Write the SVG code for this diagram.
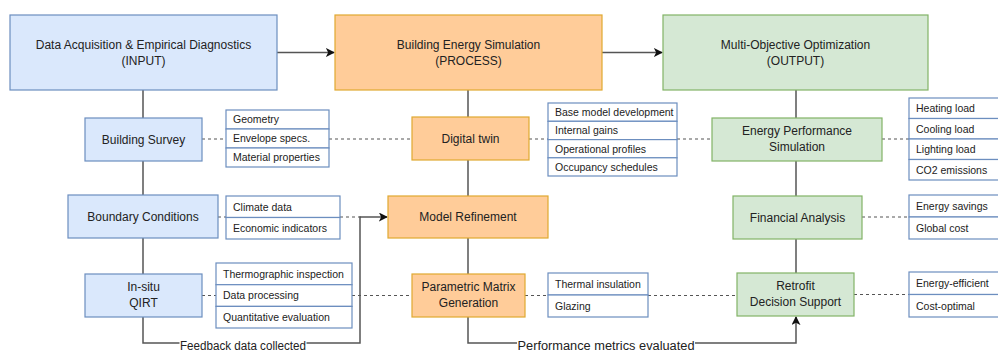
<svg xmlns="http://www.w3.org/2000/svg" width="998" height="352" viewBox="0 0 998 352">
<style>
text{font-family:"Liberation Sans",Arial,sans-serif;fill:#222}
.n{font-size:12px;text-anchor:middle}
.l{font-size:10.5px}
.b{fill:#dae8fc;stroke:#6c8ebf;stroke-width:1.2}
.o{fill:#ffcc99;stroke:#e0a830;stroke-width:1.2}
.g{fill:#d5e8d4;stroke:#82b366;stroke-width:1.2}
.w{fill:#fff;stroke:#6c8ebf;stroke-width:1.2}
.s{fill:none;stroke:#555;stroke-width:1.5}
.d{fill:none;stroke:#555;stroke-width:1.2;stroke-dasharray:3 3}
.lbl{font-size:12px;text-anchor:middle}
</style>
<defs>
<marker id="arr" viewBox="0 0 10 10" refX="9" refY="5" markerWidth="9" markerHeight="9" markerUnits="userSpaceOnUse" orient="auto">
<path d="M0,0 L10,5 L0,10 L2.5,5 Z" fill="#111"/>
</marker>
</defs>
<rect width="998" height="352" fill="#fff"/>

<g id="connectors">
<path class="s" d="M277,52.5 H334" marker-end="url(#arr)"/>
<path class="s" d="M602,52.5 H662" marker-end="url(#arr)"/>
<path class="s" d="M143,90 V118 M143,161 V195 M143,238 V274"/>
<path class="s" d="M468,90 V117 M468,160 V196 M468,238 V274"/>
<path class="s" d="M796,90 V118 M796,161 V196 M796,239 V273"/>
<path class="d" d="M202,139 H226 M329,139 H412"/>
<path class="d" d="M218,217 H226 M340,217 H361"/>
<path class="d" d="M202,295.5 H216 M352,295.5 H412"/>
<path class="d" d="M529,139 H548 M677,139 H712"/>
<path class="d" d="M525,295.5 H548 M648,295.5 H737"/>
<path class="d" d="M882,139 H909 M862,217 H909 M854,294.5 H909"/>
<path class="s" d="M143,317 V343 H360 V217 H387" marker-end="url(#arr)"/>
<path class="s" d="M468,317 V343 H796 V317" marker-end="url(#arr)"/>
<rect x="179.5" y="336" width="127" height="16" fill="#fff"/>
<text class="lbl" x="243" y="349.5" textLength="126" lengthAdjust="spacingAndGlyphs">Feedback data collected</text>
<rect x="517" y="336" width="178" height="16" fill="#fff"/>
<text class="lbl" x="606" y="349.5" textLength="177" lengthAdjust="spacingAndGlyphs">Performance metrics evaluated</text>
</g>

<g id="input">
<rect class="b" x="10" y="15" width="267" height="75"/>
<text class="n" x="143.5" y="49">Data Acquisition &amp; Empirical Diagnostics</text>
<text class="n" x="143.5" y="65">(INPUT)</text>
</g>
<g id="process">
<rect class="o" x="335" y="15" width="267" height="75"/>
<text class="n" x="468.5" y="49">Building Energy Simulation</text>
<text class="n" x="468.5" y="65">(PROCESS)</text>
</g>
<g id="output">
<rect class="g" x="663" y="15" width="265" height="75"/>
<text class="n" x="795.5" y="49">Multi-Objective Optimization</text>
<text class="n" x="795.5" y="65">(OUTPUT)</text>
</g>

<g id="building-survey">
<rect class="b" x="85" y="118" width="117" height="43"/>
<text class="n" x="143.5" y="143.5">Building Survey</text>
</g>
<g id="survey-list">
<rect class="w" x="226" y="110" width="103" height="19"/>
<rect class="w" x="226" y="129" width="103" height="19"/>
<rect class="w" x="226" y="148" width="103" height="19"/>
<text class="l" x="233" y="123">Geometry</text>
<text class="l" x="233" y="142">Envelope specs.</text>
<text class="l" x="233" y="161">Material properties</text>
</g>
<g id="boundary-conditions">
<rect class="b" x="68" y="195" width="150" height="43"/>
<text class="n" x="143" y="220.5">Boundary Conditions</text>
</g>
<g id="boundary-list">
<rect class="w" x="226" y="196" width="114" height="21.5"/>
<rect class="w" x="226" y="217.5" width="114" height="21.5"/>
<text class="l" x="233" y="210.5">Climate data</text>
<text class="l" x="233" y="232">Economic indicators</text>
</g>
<g id="qirt">
<rect class="b" x="85" y="274" width="117" height="43"/>
<text class="n" x="143.5" y="291">In-situ</text>
<text class="n" x="143.5" y="307">QIRT</text>
</g>
<g id="qirt-list">
<rect class="w" x="216" y="263" width="136" height="21.7"/>
<rect class="w" x="216" y="284.7" width="136" height="21.7"/>
<rect class="w" x="216" y="306.4" width="136" height="21.6"/>
<text class="l" x="223" y="277.5">Thermographic inspection</text>
<text class="l" x="223" y="299">Data processing</text>
<text class="l" x="223" y="321">Quantitative evaluation</text>
</g>

<g id="digital-twin">
<rect class="o" x="412" y="117" width="117" height="43"/>
<text class="n" x="470.5" y="142.5">Digital twin</text>
</g>
<g id="twin-list">
<rect class="w" x="548" y="103" width="129" height="18.3"/>
<rect class="w" x="548" y="121.3" width="129" height="18.3"/>
<rect class="w" x="548" y="139.6" width="129" height="18.2"/>
<rect class="w" x="548" y="157.8" width="129" height="18.2"/>
<text class="l" x="555" y="116">Base model development</text>
<text class="l" x="555" y="134.3">Internal gains</text>
<text class="l" x="555" y="152.6">Operational profiles</text>
<text class="l" x="555" y="170.8">Occupancy schedules</text>
</g>
<g id="model-refinement">
<rect class="o" x="388" y="196" width="160" height="42"/>
<text class="n" x="468" y="221">Model Refinement</text>
</g>
<g id="parametric-matrix">
<rect class="o" x="412" y="274" width="113" height="43"/>
<text class="n" x="468.5" y="291">Parametric Matrix</text>
<text class="n" x="468.5" y="307">Generation</text>
</g>
<g id="parametric-list">
<rect class="w" x="548" y="273" width="100" height="22"/>
<rect class="w" x="548" y="295" width="100" height="22"/>
<text class="l" x="555" y="288">Thermal insulation</text>
<text class="l" x="555" y="310">Glazing</text>
</g>

<g id="energy-performance">
<rect class="g" x="712" y="118" width="170" height="43"/>
<text class="n" x="797" y="135">Energy Performance</text>
<text class="n" x="797" y="151">Simulation</text>
</g>
<g id="performance-list">
<rect class="w" x="909" y="98" width="96" height="20.5"/>
<rect class="w" x="909" y="118.5" width="96" height="20.5"/>
<rect class="w" x="909" y="139" width="96" height="20.5"/>
<rect class="w" x="909" y="159.5" width="96" height="20.5"/>
<text class="l" x="916" y="112">Heating load</text>
<text class="l" x="916" y="132.5">Cooling load</text>
<text class="l" x="916" y="153">Lighting load</text>
<text class="l" x="916" y="173.5">CO2 emissions</text>
</g>
<g id="financial-analysis">
<rect class="g" x="733" y="196" width="129" height="43"/>
<text class="n" x="797.5" y="221.5">Financial Analysis</text>
</g>
<g id="financial-list">
<rect class="w" x="909" y="195" width="96" height="22"/>
<rect class="w" x="909" y="217" width="96" height="22"/>
<text class="l" x="916" y="210">Energy savings</text>
<text class="l" x="916" y="232">Global cost</text>
</g>
<g id="retrofit-support">
<rect class="g" x="737" y="273" width="117" height="43"/>
<text class="n" x="795.5" y="290">Retrofit</text>
<text class="n" x="795.5" y="306">Decision Support</text>
</g>
<g id="retrofit-list">
<rect class="w" x="909" y="272" width="96" height="22.5"/>
<rect class="w" x="909" y="294.5" width="96" height="22.5"/>
<text class="l" x="916" y="287">Energy-efficient</text>
<text class="l" x="916" y="309.5">Cost-optimal</text>
</g>
</svg>
